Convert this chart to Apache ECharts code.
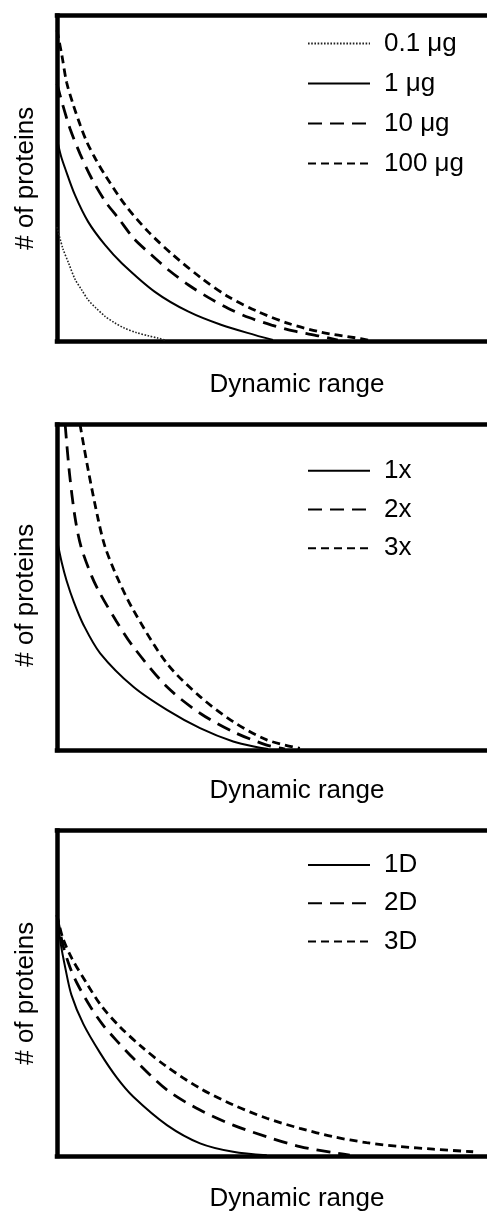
<!DOCTYPE html>
<html>
<head>
<meta charset="utf-8">
<script src="https://cdn.jsdelivr.net/npm/echarts@6/dist/echarts.min.js"></script>
<style>
html,body{margin:0;padding:0;background:#fff;}
#chart{width:487px;height:1211px;}
</style>
</head>
<body>
<div id="chart"></div>
<script>
// ---- Data (x: dynamic range, 0-100 across the frame; y: # of proteins, 0-100) ----
const xAxisName = 'Dynamic range';
const yAxisName = '# of proteins';

// Panel 1: sample amount
const panel1Names = ['0.1 μg', '1 μg', '10 μg', '100 μg'];
const p1_0_1ug = [[0,35],[1.2,28.5],[2.4,24],[3.75,19],[5.1,15.8],[6.5,12.6],[8,10.3],[10,7.6],[12,5.6],[14,4],[16.5,2.6],[19,1.6],[21,0.9],[22.5,0.3]];
const p1_1ug   = [[0,62],[0.8,57],[1.7,53],[3.75,44.8],[6.5,36.6],[10,29.5],[13.5,23.9],[20.4,15.1],[27.4,9],[34.3,4.9],[41.3,1.8],[45,0.3]];
const p1_10ug  = [[0,79],[1.2,72.5],[2.7,65.3],[4.8,57.5],[7.2,50],[10,43],[12.8,37.7],[16,31.5],[19.7,26.4],[23.5,21.5],[27.4,17.2],[31.5,13.4],[35.7,10],[40,7.2],[44.7,4.9],[49.5,3],[54.4,1.6],[58.5,0.3]];
const p1_100ug = [[0,95.5],[1,87.9],[2,79.5],[3.4,72.5],[4.8,66.5],[6.2,61.2],[8,56],[10,51],[14.2,41.8],[19,33.6],[24.2,26.4],[30.1,19.3],[35.7,13.6],[41.9,9],[48.2,5.4],[55.1,2.7],[62.1,1],[64.8,0.3]];

// Panel 2: replicates
const panel2Names = ['1x', '2x', '3x'];
const p2_1x = [[0,64.5],[1,57.5],[2,52],[3.5,45.5],[5.5,38.5],[9,29.7],[15.9,19.4],[22.9,12.3],[29.8,6.7],[36.7,2.6],[42.3,0.7],[44,0.3]];
const p2_2x = [[1.7,100],[2.6,85],[3.75,71.5],[5,62.5],[7.2,53.5],[9,48],[12.4,39.5],[15.9,31.7],[22.9,19.4],[29.8,11.3],[36.7,5.6],[43.7,1.5],[47.5,0.3]];
const p2_3x = [[4.8,100],[6.5,86],[8.6,70.7],[10,62.5],[12.4,53.5],[15.9,43],[22.9,26.6],[29.8,16.4],[36.7,8.7],[43.7,3.1],[50.6,0.5]];

// Panel 3: separation dimensions
const panel3Names = ['1D', '2D', '3D'];
const p3_1D = [[0,74],[0.8,65],[1.7,58],[3,49.5],[5.5,40.5],[9,31.6],[12.5,24],[15.9,18.2],[22.9,9.5],[29.8,3.9],[36.7,1.3],[43.7,0.2]];
const p3_2D = [[0,74],[1.2,65],[2.7,58],[4.2,53],[6.9,46],[9.6,40.2],[12.7,35],[15.9,30],[22.9,20.3],[29.8,14.1],[36.7,9.5],[43.7,5.9],[50.6,2.9],[57.6,1],[61,0.3]];
const p3_3D = [[0,74],[1.2,67],[3.1,60.7],[6.2,53],[9.3,46],[13.1,39.7],[17.6,33.6],[22.9,27.4],[29.8,20.8],[36.7,15.7],[43.7,11.6],[50.6,8.5],[57.6,5.9],[64.5,4.1],[71.5,2.9],[78.4,2.1],[86.7,1.3]];

// ---- Styles ----
const FONT = "'Liberation Sans', Arial, Helvetica, sans-serif";
const styles = {
  dotted: { width: 1.6, type: [1.6, 1.6], color: '#222' },
  solid:  { width: 2,   type: 'solid',    color: '#000' },
  long:   { width: 2.8, type: [14, 8],    color: '#000' },
  short:  { width: 2.8, type: [8, 5],     color: '#000' }
};

const panels = [
  { top: 15.5,  height: 325.5, nameGapX: 31, yPad: [0,0,0,0], legendTop: 30.5, legendGap: 14,
    names: panel1Names, data: [p1_0_1ug, p1_1ug, p1_10ug, p1_100ug], st: ['dotted','solid','long','short'] },
  { top: 424.5, height: 325.5, nameGapX: 28, yPad: [0,16,0,0], legendTop: 457.7, legendGap: 12.8,
    names: panel2Names, data: [p2_1x, p2_2x, p2_3x], st: ['solid','long','short'] },
  { top: 830.5, height: 325.5, nameGapX: 30, yPad: [0,0,0,0], legendTop: 852, legendGap: 12.3,
    names: panel3Names, data: [p3_1D, p3_2D, p3_3D], st: ['solid','long','short'] }
];

const axisLine = { show: true, onZero: false, lineStyle: { color: '#000', width: 4.5, cap: 'square' } };
const option = { animation: false, backgroundColor: '#fff', grid: [], xAxis: [], yAxis: [], series: [], legend: [] };

panels.forEach((p, i) => {
  option.grid.push({ left: 57, width: 480, top: p.top, height: p.height,
    containLabel: false, outerBoundsMode: 'none' });
  option.xAxis.push({
    type: 'value', gridIndex: i, min: 0, max: 100, position: 'bottom',
    axisLine, axisTick: { show: false }, axisLabel: { show: false }, splitLine: { show: false },
    name: xAxisName, nameLocation: 'middle', nameGap: p.nameGapX,
    nameTextStyle: { fontSize: 26, fontFamily: FONT, color: '#000' }
  });
  option.xAxis.push({
    type: 'value', gridIndex: i, min: 0, max: 100, position: 'top',
    axisLine, axisTick: { show: false }, axisLabel: { show: false }, splitLine: { show: false }
  });
  option.yAxis.push({
    type: 'value', gridIndex: i, min: 0, max: 100, position: 'left',
    axisLine, axisTick: { show: false }, axisLabel: { show: false }, splitLine: { show: false },
    name: yAxisName, nameLocation: 'middle', nameGap: 18,
    nameTextStyle: { fontSize: 26, fontFamily: FONT, color: '#000', padding: p.yPad }
  });
  p.data.forEach((d, k) => {
    option.series.push({
      type: 'line', name: p.names[k], xAxisIndex: 2 * i, yAxisIndex: i,
      data: d, showSymbol: false, symbol: 'none', smooth: 0.3, clip: true,
      lineStyle: styles[p.st[k]], itemStyle: { color: styles[p.st[k]].color }
    });
  });
  option.legend.push({
    data: p.names, orient: 'vertical', left: 307, top: p.legendTop, padding: 0,
    itemWidth: 62, itemHeight: 14, itemGap: p.legendGap, selectedMode: false,
    itemStyle: { opacity: 0 },
    textStyle: { fontSize: 26, fontFamily: FONT, color: '#000', lineHeight: 26, padding: [0, 0, 0, 9] }
  });
});

const chart = echarts.init(document.getElementById('chart'), null, { renderer: 'canvas' });
chart.setOption(option);
</script>
</body>
</html>
